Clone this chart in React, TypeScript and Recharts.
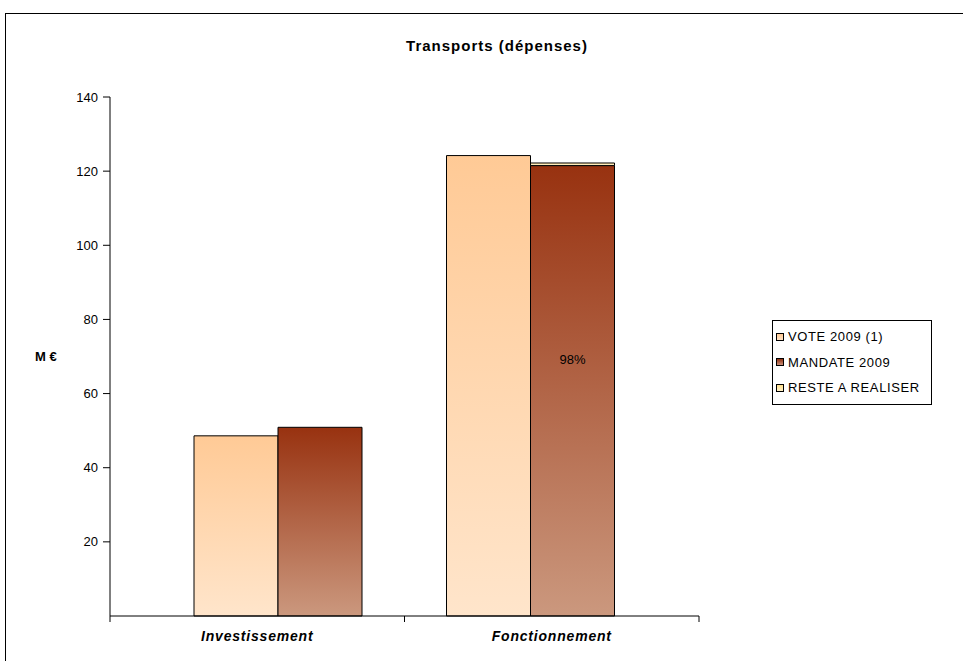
import { BarChart, Bar, XAxis, YAxis, Legend, LabelList } from "recharts";

const categories = ["Investissement", "Fonctionnement"];
const vote2009 = [48.6, 124.2];
const mandate2009 = [50.9, 121.5];
const resteARealiser = [0, 0.7];
const pctLabels = ["", "98%"];
const yTicks = [20, 40, 60, 80, 100, 120, 140];
const seriesNames = ["VOTE 2009 (1)", "MANDATE 2009", "RESTE A REALISER"];

const legendIcons = [
  "linear-gradient(#ffc994, #ffe2c4)",
  "linear-gradient(#8f2f10, #c99079)",
  "linear-gradient(#ffe08f, #fff0c4)",
];

const data = categories.map((name, i) => ({
  name,
  vote: vote2009[i],
  mandate: mandate2009[i],
  reste: resteARealiser[i],
  pct: pctLabels[i],
}));

const font = '"Liberation Sans", Arial, sans-serif';

function LegendBox() {
  return (
    <div
      style={{
        border: "1px solid #000",
        background: "#fff",
        width: 155,
        padding: "3px 0 3px 3px",
        fontSize: 13,
        letterSpacing: 0.6,
        color: "#000",
        fontFamily: font,
        textAlign: "left",
        whiteSpace: "nowrap",
      }}
    >
      {seriesNames.map((s, i) => (
        <div key={s} style={{ display: "flex", alignItems: "center", height: 25.5 }}>
          <span
            style={{
              display: "inline-block",
              width: 6,
              height: 6,
              border: "1px solid #000",
              background: legendIcons[i],
              marginRight: 4,
            }}
          />
          <span>{s}</span>
        </div>
      ))}
    </div>
  );
}

// category label plus tick marks on the category boundaries
const CategoryTick = (props: any) => {
  const { x, y, payload, width, visibleTicksCount, index } = props;
  const half = typeof width === "number" && visibleTicksCount ? width / visibleTicksCount / 2 : 0;
  return (
    <g>
      {half > 0 && index === 0 && (
        <line x1={x - half} x2={x - half} y1={y} y2={y + 6} stroke="#000" />
      )}
      {half > 0 && <line x1={x + half} x2={x + half} y1={y} y2={y + 6} stroke="#000" />}
      <text
        x={x}
        y={y + 15}
        dy="0.71em"
        textAnchor="middle"
        fontSize={14}
        letterSpacing={0.8}
        fontWeight="bold"
        fontStyle="italic"
        fill="#000"
      >
        {payload.value}
      </text>
    </g>
  );
};

const renderPct = (props: any) => {
  const { x, y, width, height, value } = props;
  if (!value) return null;
  return (
    <text
      x={x + width / 2}
      y={y + height / 2 - 31}
      textAnchor="middle"
      dominantBaseline="central"
      fontSize={13}
      fill="#000"
    >
      {value}
    </text>
  );
};

export default function App() {
  return (
    <div
      style={{
        position: "absolute",
        left: 0,
        top: 0,
        width: 963,
        height: 661,
        overflow: "hidden",
        background: "#fff",
        fontFamily: font,
      }}
    >
      <div
        style={{
          position: "absolute",
          left: 5,
          top: 13,
          width: 982,
          height: 700,
          border: "1px solid #000",
        }}
      >
        <div
          style={{
            position: "absolute",
            left: 0,
            top: 23,
            width: 982,
            textAlign: "center",
            fontSize: 15,
            letterSpacing: 1,
            fontWeight: "bold",
            color: "#000",
          }}
        >
          Transports (dépenses)
        </div>
        <BarChart
          width={950}
          height={640}
          data={data}
          margin={{ top: 83, right: 257, bottom: 8, left: 0 }}
          barGap={0}
          barCategoryGap={42}
        >
          <defs>
            <linearGradient id="gVote" x1="0" y1="0" x2="0" y2="1">
              <stop offset="0%" stopColor="#ffca96" />
              <stop offset="100%" stopColor="#ffe5cb" />
            </linearGradient>
            <linearGradient id="gMandate" x1="0" y1="0" x2="0" y2="1">
              <stop offset="0%" stopColor="#983210" />
              <stop offset="100%" stopColor="#cb987e" />
            </linearGradient>
            <linearGradient id="gReste" x1="0" y1="0" x2="0" y2="1">
              <stop offset="0%" stopColor="#ffe6a6" />
              <stop offset="100%" stopColor="#fff0c8" />
            </linearGradient>
          </defs>
          <YAxis
            width={104}
            domain={[0, 140]}
            ticks={yTicks}
            interval={0}
            tickSize={7}
            tickMargin={5}
            axisLine={{ stroke: "#000" }}
            tickLine={{ stroke: "#000" }}
            tick={{ fontSize: 13, fill: "#000" }}
            label={{
              value: "M €",
              position: "insideLeft",
              offset: 29,
              angle: 0,
              fontSize: 13,
              fontWeight: "bold",
              fill: "#000",
            }}
          />
          <XAxis
            xAxisId="labels"
            dataKey="name"
            interval={0}
            tickSize={0}
            tickMargin={0}
            height={30}
            axisLine={{ stroke: "#000" }}
            tickLine={false}
            tick={<CategoryTick />}
          />
          <XAxis
            xAxisId="bars"
            dataKey="name"
            hide
            height={0}
            padding={{ left: 42, right: 42 }}
          />
          <Legend
            layout="horizontal"
            verticalAlign="middle"
            align="center"
            wrapperStyle={{ left: 766, top: 306, width: 160, right: "auto", bottom: "auto" }}
            content={() => <LegendBox />}
          />
          <Bar
            xAxisId="bars"
            dataKey="vote"
            name={seriesNames[0]}
            stackId="v"
            fill="url(#gVote)"
            stroke="#000"
            strokeWidth={1}
            isAnimationActive={false}
          />
          <Bar
            xAxisId="bars"
            dataKey="mandate"
            name={seriesNames[1]}
            stackId="m"
            fill="url(#gMandate)"
            stroke="#000"
            strokeWidth={1}
            isAnimationActive={false}
          >
            <LabelList dataKey="pct" content={renderPct} />
          </Bar>
          <Bar
            xAxisId="bars"
            dataKey="reste"
            name={seriesNames[2]}
            stackId="m"
            fill="url(#gReste)"
            stroke="#000"
            strokeWidth={1}
            isAnimationActive={false}
          />
        </BarChart>
      </div>
    </div>
  );
}
